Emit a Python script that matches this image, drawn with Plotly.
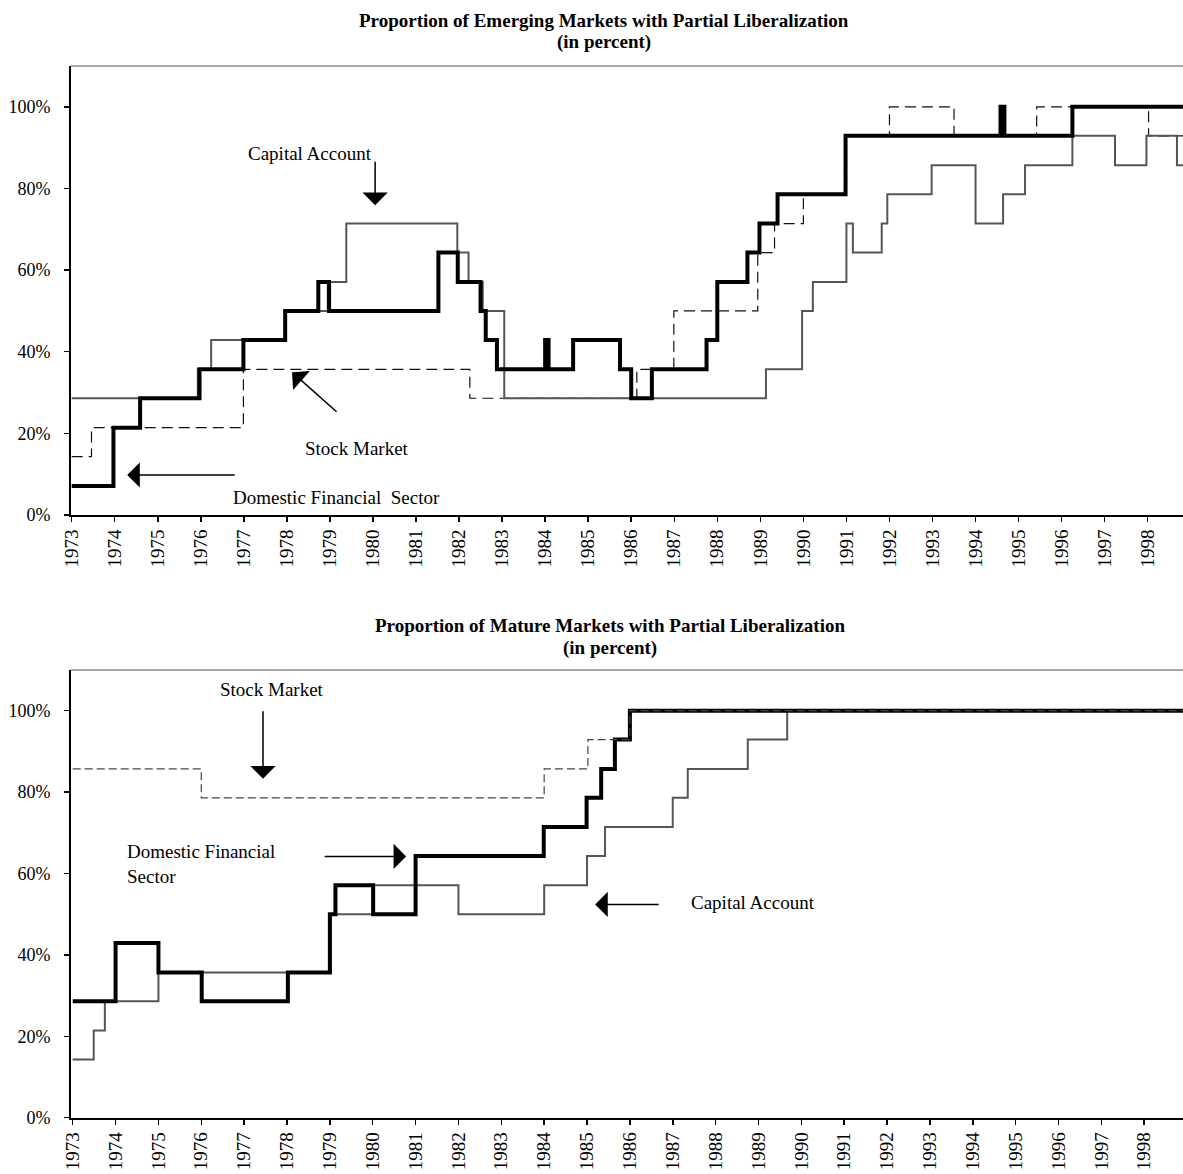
import plotly.graph_objects as go

# ---------------- data (percent of countries, step changes) ----------------
years = ["1973", "1974", "1975", "1976", "1977", "1978", "1979", "1980", "1981",
         "1982", "1983", "1984", "1985", "1986", "1987", "1988", "1989", "1990",
         "1991", "1992", "1993", "1994", "1995", "1996", "1997", "1998"]
pct_ticks = [0, 20, 40, 60, 80, 100]
pct_labels = ["0%", "20%", "40%", "60%", "80%", "100%"]

# Emerging markets
em_dfs_x = [1973.0, 1973.97, 1974.59, 1975.97, 1976.99, 1977.96, 1978.73, 1978.98,
            1981.52, 1981.97, 1982.5, 1982.62, 1982.88, 1984.0, 1984.08, 1984.65,
            1985.74, 1986.0, 1986.48, 1987.75, 1988.0, 1988.7, 1988.98, 1989.4,
            1990.98, 1994.58, 1994.67, 1996.25, 1999.0]
em_dfs_y = [7.1, 21.4, 28.6, 35.7, 42.9, 50.0, 57.1, 50.0,
            64.3, 57.1, 50.0, 42.9, 35.7, 42.9, 35.7, 42.9,
            35.7, 28.6, 35.7, 42.9, 57.1, 64.3, 71.4, 78.6,
            92.9, 100.0, 92.9, 100.0, 100.0]

em_ca_x = [1973.0, 1975.93, 1976.24, 1977.96, 1978.95, 1979.38, 1981.96, 1982.22,
           1982.55, 1983.05, 1989.13, 1989.97, 1990.22, 1991.0, 1991.15, 1991.82,
           1991.95, 1992.98, 1994.0, 1994.64, 1995.15, 1996.25, 1997.24, 1997.97,
           1998.68, 1999.0]
em_ca_y = [28.6, 35.7, 42.9, 50.0, 57.1, 71.4, 64.3, 57.1,
           50.0, 28.6, 35.7, 50.0, 57.1, 71.4, 64.3, 71.4,
           78.6, 85.7, 71.4, 78.6, 85.7, 92.9, 85.7, 92.9,
           85.7, 85.7]

em_sm_x = [1973.0, 1973.46, 1976.99, 1982.25, 1986.13, 1986.99, 1988.94, 1989.33,
           1990.0, 1991.0, 1992.0, 1993.5, 1995.42, 1998.02, 1999.0]
em_sm_y = [14.3, 21.4, 35.7, 28.6, 35.7, 50.0, 64.3, 71.4,
           78.6, 92.9, 100.0, 92.9, 100.0, 92.9, 92.9]

# Mature markets
ma_dfs_x = [1973.0, 1974.0, 1975.0, 1976.01, 1978.02, 1979.0, 1979.13, 1980.01,
            1981.0, 1983.99, 1984.99, 1985.33, 1985.65, 1986.0, 1999.0]
ma_dfs_y = [28.6, 42.9, 35.7, 28.6, 35.7, 50.0, 57.1, 50.0,
            64.3, 71.4, 78.6, 85.7, 92.9, 100.0, 100.0]

ma_ca_x = [1973.0, 1973.49, 1973.75, 1975.0, 1979.02, 1980.0, 1982.0, 1984.0,
           1985.0, 1985.42, 1987.0, 1987.35, 1988.75, 1989.67, 1999.0]
ma_ca_y = [14.3, 21.4, 28.6, 35.7, 50.0, 57.1, 50.0, 57.1,
           64.3, 71.4, 78.6, 85.7, 92.9, 100.0, 100.0]

ma_sm_x = [1973.0, 1976.0, 1984.0, 1985.02, 1986.0, 1999.0]
ma_sm_y = [85.7, 78.6, 85.7, 92.9, 100.0, 100.0]

# ---------------- figure ----------------
FONT = "Liberation Serif, Times New Roman, serif"
fig = go.Figure()

def add(x, y, xa, ya, color, width, dash=None):
    fig.add_trace(go.Scatter(x=x, y=y, xaxis=xa, yaxis=ya, mode="lines",
                             line=dict(shape="hv", color=color, width=width, dash=dash),
                             showlegend=False, hoverinfo="skip"))

add(em_sm_x, em_sm_y, "x", "y", "#111111", 1.2, "11px,6px")
add(em_ca_x, em_ca_y, "x", "y", "#555555", 2)
add(em_dfs_x, em_dfs_y, "x", "y", "#000000", 4)

add(ma_ca_x, ma_ca_y, "x2", "y2", "#555555", 2)
add(ma_dfs_x, ma_dfs_y, "x2", "y2", "#000000", 4)
add(ma_sm_x, ma_sm_y, "x2", "y2", "#444444", 1.2, "8px,4px")

year_vals = [int(v) for v in years]

xcommon = dict(tickmode="array", tickvals=year_vals, ticktext=years, tickangle=-90,
               ticks="outside", ticklen=5, tickwidth=1.5, tickcolor="black",
               showline=True, linecolor="black", linewidth=2, showgrid=False,
               zeroline=False, automargin=False,
               tickfont=dict(family=FONT, size=19, color="black"),
               domain=[0, 1])
ycommon = dict(tickmode="array", tickvals=pct_ticks, ticktext=pct_labels, range=[0, 110],
               ticks="outside", ticklen=5, tickwidth=1.5, tickcolor="black",
               showline=True, linecolor="black", linewidth=2, showgrid=False,
               zeroline=False, ticklabelstandoff=10, automargin=False,
               tickfont=dict(family=FONT, size=18, color="black"))

W = 1183
H = 1174.0

def py(screen_y):
    return 1 - screen_y / H

fig.update_layout(
    width=W, height=int(H),
    margin=dict(l=71, r=0, t=0, b=0, autoexpand=False),
    paper_bgcolor="white", plot_bgcolor="white",
    xaxis=dict(xcommon, anchor="y", range=[1972.984, 1998.82]),
    yaxis=dict(ycommon, anchor="x", domain=[py(515), py(66)]),
    xaxis2=dict(xcommon, anchor="y2", range=[1972.96, 1998.905]),
    yaxis2=dict(ycommon, anchor="x2", domain=[py(1117.7), py(670)]),
)

# top border lines of plot frames
for xr, yr in (("x domain", "y domain"), ("x2 domain", "y2 domain")):
    fig.add_shape(type="line", xref=xr, yref=yr, x0=0, x1=1, y0=1, y1=1,
                  line=dict(color="#555555", width=1))

tfont = dict(family=FONT, size=19, color="black")

# titles
titles = [
    ("<b>Proportion of Emerging Markets with Partial Liberalization</b>", 0.4793, 21),
    ("<b>(in percent)</b>", 0.4793, 42),
    ("<b>Proportion of Mature Markets with Partial Liberalization</b>", 0.4847, 625),
    ("<b>(in percent)</b>", 0.4847, 648),
]
for txt, xp, ypx in titles:
    fig.add_annotation(text=txt, xref="paper", yref="paper", x=xp, y=py(ypx),
                       xanchor="center", yanchor="middle", showarrow=False,
                       font=dict(family=FONT, size=19, color="black"))

# labels
labels = [
    ("Capital Account", "x", "y", 1978.54, 88.6, "center"),
    ("Stock Market", "x", "y", 1979.63, 16.4, "center"),
    ("Domestic Financial  Sector", "x", "y", 1979.16, 4.4, "center"),
    ("Stock Market", "x2", "y2", 1977.65, 105.2, "center"),
    ("Domestic Financial<br>Sector", "x2", "y2", 1974.22, 62.3, "left"),
    ("Capital Account", "x2", "y2", 1988.88, 52.9, "center"),
]
for txt, xr, yr, xv, yv, anc in labels:
    fig.add_annotation(text=txt, xref=xr, yref=yr, x=xv, y=yv, xanchor=anc,
                       yanchor="middle", align="left", showarrow=False, font=tfont)

# arrows (tip in data coords, tail offset in px)
arrows = [
    ("x", "y", 1980.05, 75.9, 0, -45),
    ("x", "y", 1978.12, 35.0, 46, 41),
    ("x", "y", 1974.29, 9.8, 109, 0),
    ("x2", "y2", 1977.44, 83.3, 0, -69),
    ("x2", "y2", 1980.78, 64.2, -83, 0),
    ("x2", "y2", 1985.19, 52.4, 65, 0),
]
for xr, yr, xv, yv, axp, ayp in arrows:
    fig.add_annotation(text="", xref=xr, yref=yr, x=xv, y=yv, ax=axp, ay=ayp,
                       axref="pixel", ayref="pixel", showarrow=True,
                       arrowhead=1, arrowsize=2.8, arrowwidth=1.5, arrowcolor="black",
                       standoff=0, startstandoff=0)

fig.write_html("out.html",
               config={"displayModeBar": False, "staticPlot": True},
               post_script="document.body.style.margin='0';"
                           "document.body.style.overflow='hidden';")
